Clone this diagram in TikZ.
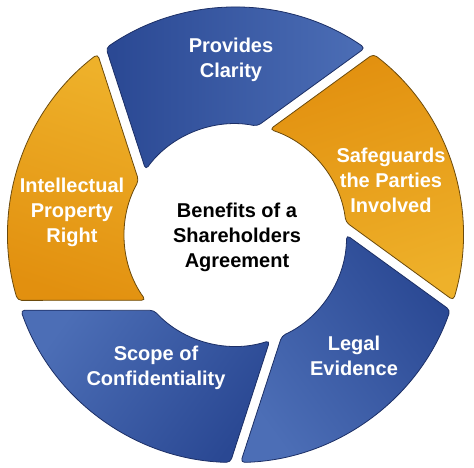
\documentclass[tikz,border=0pt]{standalone}
\usepackage{fontspec}
\setmainfont{Liberation Sans}
\definecolor{bluedark}{HTML}{2A4893}
\definecolor{bluelight}{HTML}{4C6EB6}
\definecolor{blueline}{HTML}{1C2F66}
\definecolor{orangedark}{HTML}{E2900F}
\definecolor{orangelight}{HTML}{EEB12A}
\definecolor{orangeline}{HTML}{6B4A0C}

\begin{document}
\begin{tikzpicture} [
    x=1pt, y=1pt,
    seg/.style={rounded corners=4pt, line width=0.8pt},
    blueseg/.style={seg, draw=blueline, bottom color=bluedark, top color=bluelight},
    orangeseg/.style={seg, draw=orangeline, bottom color=orangedark, top color=orangelight},
    lbl/.style={text=white, font=\bfseries\fontsize{20}{25}\selectfont, align=center},
    ]
    \useasboundingbox (-235.5,-232) rectangle (238.5,235);
    % ring of five segments, gaps tilted by 18 degrees
    \foreach \a/\kind in {54/blueseg, -18/orangeseg, -90/blueseg, 198/blueseg, 126/orangeseg} {
      \pgfmathsetmacro\b{\a+72}
      \pgfmathsetmacro\sa{\a-144}
      \path [\kind, shading angle=\sa]
      (\a+1.3:227.5) arc [start angle=\a+1.3, end angle=\b-1.3, radius=227.5]
      -- (\b+18:111) arc [start angle=\b+18, end angle=\a+24.7, radius=111]
      -- cycle;
    }
    % labels
    \node [lbl] (clarity) at (-4.5,175.5) {Provides\\Clarity};
    \node [lbl] (safeguards) at (155.5,55) {Safeguards\\the Parties\\Involved};
    \node [lbl] (evidence) at (118.5,-121) {Legal\\Evidence};
    \node [lbl] (scope) at (-79.5,-132.5) {Scope of\\Confidentiality};
    \node [lbl] (property) at (-163.5,22.5) {Intellectual\\Property\\Right};
    \node [lbl, text=black] (benefits) at (1.5,-2) {Benefits of a\\Shareholders\\Agreement};
  \end{tikzpicture}
\end{document}
